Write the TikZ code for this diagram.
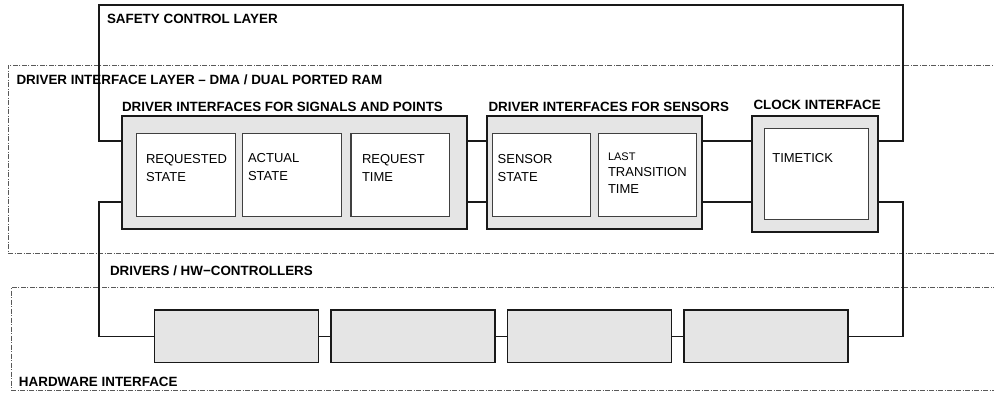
\documentclass[tikz,border=0pt]{standalone}
\usepackage{fontspec}
\setmainfont{Liberation Sans}
\usetikzlibrary{positioning,calc}

\begin{document}
\begin{tikzpicture}[x=1pt,y=-1pt]
  \useasboundingbox (0,0) rectangle (994,392);
  \tikzset{
    every node/.style={inner sep=0pt,outer sep=0pt},
    layer/.style={draw=black!65,line width=0.8pt,anchor=north west,
      dash pattern=on 5pt off 1.5pt on 1pt off 1.5pt},
    heading/.style={anchor=base west,font=\fontsize{13.4}{16}\selectfont\bfseries},
    wire/.style={draw=black!90,line width=1.5pt},
    iface/.style={draw=black!90,line width=2pt,fill=black!10,anchor=north west},
    cell/.style={draw=black!75,line width=1.2pt,fill=white,anchor=north west,
      minimum height=83pt},
    celltext/.style={anchor=north west,align=left,font=\fontsize{13}{18}\selectfont},
    hwbox/.style={draw=black!90,line width=1.5pt,fill=black!10,anchor=north west,
      minimum width=164pt,minimum height=52.7pt},
  }
  % layers
  \node[layer,minimum width=1000pt,minimum height=188pt] (dil) at (8,65) {};
  \node[layer,minimum width=1000pt,minimum height=103pt] (hwi) at (11,287.7) {};
  \node[wire,anchor=north west,minimum width=804pt,minimum height=136pt] (safety) at (99,5) {};
  \node[heading] (safety-label) at (107,23.5) {SAFETY CONTROL LAYER};
  \node[heading] (dil-label) at (16.5,84) {DRIVER INTERFACE LAYER – DMA / DUAL PORTED RAM};
  \node[heading] (drivers-label) at (110,275) {DRIVERS / HW−CONTROLLERS};
  \node[heading] (hwi-label) at (19,386) {HARDWARE INTERFACE};

  % signals and points
  \node[iface,minimum width=345.6pt,minimum height=113.3pt] (sigpts) at (121.7,116) {};
  \node[heading] (sigpts-label) at (122,111.5) {DRIVER INTERFACES FOR SIGNALS AND POINTS};
  \node[cell,minimum width=98.6pt] (reqstate) at (136.7,133.3) {};
  \node[cell,minimum width=99pt,right=7pt of reqstate] (actstate) {};
  \node[cell,minimum width=98.7pt,right=9.7pt of actstate] (reqtime) {};
  \node[celltext] (reqstate-text) at ($(reqstate.north west)+(9.3,20.9)$) {REQUESTED\\STATE};
  \node[celltext] (actstate-text) at ($(actstate.north west)+(5.7,19.9)$) {ACTUAL\\STATE};
  \node[celltext] (reqtime-text) at ($(reqtime.north west)+(11,20.9)$) {REQUEST\\TIME};

  % sensors
  \node[iface,minimum width=214.4pt,minimum height=113.3pt] (sensors) at (487.3,116) {};
  \node[heading] (sensors-label) at (488.5,111.5) {DRIVER INTERFACES FOR SENSORS};
  \node[cell,minimum width=98.4pt] (sensstate) at (492.3,133.3) {};
  \node[cell,minimum width=98.4pt,right=7.6pt of sensstate] (lasttrans) {};
  \node[celltext] (sensstate-text) at ($(sensstate.north west)+(5.4,20.9)$) {SENSOR\\STATE};
  \node[anchor=base west,font=\fontsize{11}{16}\selectfont] (last-text)
    at ($(lasttrans.north west)+(9.7,27.4)$) {LAST};
  \node[celltext,font=\fontsize{13}{16.6}\selectfont] (trans-text)
    at ($(lasttrans.north west)+(9.7,34.1)$) {TRANSITION\\TIME};

  % clock
  \node[iface,minimum width=126pt,minimum height=116.3pt] (clock) at (752.3,116) {};
  \node[heading] (clock-label) at (753.5,109) {CLOCK INTERFACE};
  \node[cell,minimum width=104pt,minimum height=91pt] (timetick) at (764.3,128.3) {};
  \node[celltext] (timetick-text) at ($(timetick.north west)+(8,24.9)$) {TIMETICK};

  % hardware controllers
  \foreach \i in {1,...,4}
    \node[hwbox] (hw\i) at ({154.3+176.5*(\i-1)},310) {};

  % bus
  \coordinate (busL) at (99,202);
  \coordinate (busR) at (903,202);
  \draw[wire] (sigpts.west |- busL) -- (busL) |- (hw1.west);
  \foreach \i/\j in {1/2,2/3,3/4}
    \draw[wire] (hw\i) -- (hw\j);
  \draw[wire] (hw4.east) -| (busR) -- (clock.east |- busR);
  \draw[wire] (clock.west |- busR) -- (sensors.east |- busR);
  \draw[wire] (sensors.west |- busR) -- (sigpts.east |- busR);
\end{tikzpicture}
\end{document}
